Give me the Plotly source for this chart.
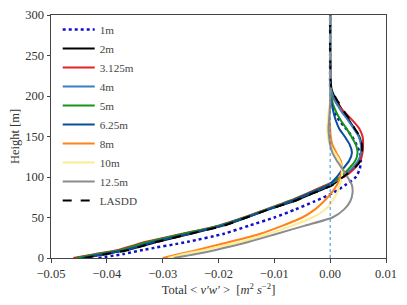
import plotly.graph_objects as go

heights = [0, 5, 10, 20, 30, 40, 50, 60, 70, 80, 90, 100, 110, 120, 130, 140,
           150, 160, 170, 180, 190, 200, 210, 250, 300]

flux_1m = [-0.0415, -0.037, -0.0335, -0.0255, -0.019, -0.0145, -0.0100, -0.0062, -0.0028, 0.0004,
           0.0027, 0.0046, 0.0053, 0.0055, 0.0053, 0.0047, 0.0039, 0.0028, 0.0016, 0.0008,
           0.0003, 0.0001, 0.0, 0.0, 0.0]
flux_2m = [-0.0442, -0.0402, -0.0362, -0.0310, -0.0250, -0.0192, -0.0150, -0.0110, -0.0066, -0.0031,
           0.0003, 0.0022, 0.0040, 0.0052, 0.0056, 0.0056, 0.0052, 0.0043, 0.0034, 0.0024,
           0.0015, 0.0007, 0.0002, 0.0, 0.0]
flux_3125m = [-0.0460, -0.0420, -0.0380, -0.0330, -0.0265, -0.0200, -0.0155, -0.0115, -0.0075, -0.0040,
              -0.0008, 0.0025, 0.0043, 0.0054, 0.0058, 0.0059, 0.0058, 0.0052, 0.0040, 0.0026,
              0.0012, 0.0004, 0.0001, 0.0, 0.0]
flux_4m = [-0.0450, -0.0410, -0.0370, -0.0318, -0.0256, -0.0196, -0.0152, -0.0112, -0.0070, -0.0035,
           -0.0002, 0.0020, 0.0038, 0.0050, 0.0055, 0.0055, 0.0051, 0.0042, 0.0032, 0.0021,
           0.0012, 0.0005, 0.0001, 0.0, 0.0]
flux_5m = [-0.0455, -0.0415, -0.0375, -0.0325, -0.0262, -0.0198, -0.0153, -0.0113, -0.0073, -0.0038,
           -0.0005, 0.0018, 0.0033, 0.0045, 0.0049, 0.0046, 0.0038, 0.0029, 0.0019, 0.0011,
           0.0005, 0.0002, 0.0, 0.0, 0.0]
flux_625m = [-0.0445, -0.0405, -0.0366, -0.0315, -0.0253, -0.0194, -0.0150, -0.0110, -0.0070, -0.0036,
             -0.0003, 0.0012, 0.0023, 0.0034, 0.0039, 0.0035, 0.0026, 0.0016, 0.0010, 0.0006,
             0.0003, 0.0001, 0.0, 0.0, 0.0]
flux_8m = [-0.0300, -0.0270, -0.0238, -0.0179, -0.0125, -0.0085, -0.0050, -0.0027, -0.0011, 0.0002,
           0.0012, 0.0018, 0.0021, 0.0019, 0.0011, 0.0004, 0.0001, 0.0, -0.0001, -0.0001,
           0.0, 0.0, 0.0, 0.0, 0.0]
flux_10m = [-0.0290, -0.0262, -0.0225, -0.0160, -0.0110, -0.0068, -0.0032, -0.0009, 0.0004, 0.0012,
            0.0017, 0.0021, 0.0021, 0.0017, 0.0008, -0.0001, -0.0004, -0.0005, -0.0004, -0.0003,
            -0.0001, 0.0, 0.0, 0.0, 0.0]
flux_125m = [-0.0280, -0.0240, -0.0205, -0.0145, -0.0095, -0.0045, 0.0004, 0.0025, 0.0036, 0.0040,
             0.0039, 0.0031, 0.0022, 0.0012, 0.0004, 0.0, -0.0002, -0.0003, -0.0002, -0.0001,
             0.0, 0.0, 0.0, 0.0, 0.0]
flux_lasdd = [-0.0440, -0.0400, -0.0360, -0.0310, -0.0250, -0.0190, -0.0150, -0.0110, -0.0065, -0.0030,
              0.0004, 0.0023, 0.0042, 0.0054, 0.0057, 0.0057, 0.0053, 0.0044, 0.0036, 0.0026,
              0.0017, 0.0008, 0.0002, 0.0, 0.0]

labels = ["1m", "2m", "3.125m", "4m", "5m", "6.25m", "8m", "10m", "12.5m", "LASDD"]
series = [flux_1m, flux_2m, flux_3125m, flux_4m, flux_5m, flux_625m, flux_8m, flux_10m, flux_125m, flux_lasdd]
colors = ["#1010c8", "#000000", "#e3222a", "#3a7fc1", "#17951a", "#0c4c98", "#ff8418",
          "#fcec94", "#8c8c8c", "#000000"]
dashes = ["dot", "solid", "solid", "solid", "solid", "solid", "solid", "solid", "solid", "dash"]
widths = [2.5, 2, 2, 2, 2, 2, 2, 2, 2, 2]

x_ticks = [-0.05, -0.04, -0.03, -0.02, -0.01, 0.0, 0.01]
y_ticks = [0, 50, 100, 150, 200, 250, 300]

SERIF = "Liberation Serif"

fig = go.Figure()
fig.add_vline(x=0, line=dict(color="#2b8fe6", width=1, dash="dot"))
for lab, vals, col, dsh, w in zip(labels, series, colors, dashes, widths):
    fig.add_trace(go.Scatter(x=vals, y=heights, mode="lines", name=lab,
                             line=dict(color=col, dash=dsh, width=w, shape="spline", smoothing=0.6)))

# page body has an 8px default margin; figure sized so the plot lands where the reference has it
fig.update_layout(
    width=399, height=297,
    margin=dict(l=43, r=21, t=7, b=47, autoexpand=False),
    paper_bgcolor="white", plot_bgcolor="white",
    font=dict(family=SERIF, size=12.5, color="#222"),
    showlegend=True,
    legend=dict(x=0.02, y=1.0, xanchor="left", yanchor="top",
                bgcolor="rgba(255,255,255,0)", borderwidth=0,
                font=dict(family=SERIF, size=11.2, color="#444"),
                itemwidth=32, tracegroupgap=0),
)
fig.update_xaxes(range=[-0.05, 0.01], tickvals=x_ticks, tickformat=".2f", automargin=False,
                 showgrid=False, zeroline=False, showline=True, linecolor="#444", linewidth=1,
                 mirror=True, ticks="outside", ticklen=3.5, tickcolor="#444",
                 tickfont=dict(family=SERIF, size=12.5, color="#333"),
                 title=dict(text="Total &lt; <i>v′w′</i> &gt;  [<i>m</i><sup>2</sup> <i>s</i><sup>−2</sup>]",
                            standoff=0, font=dict(family=SERIF, size=12.5, color="#333")))
fig.update_yaxes(range=[0, 300], tickvals=y_ticks, automargin=False,
                 showgrid=False, zeroline=False, showline=True, linecolor="#444", linewidth=1,
                 mirror=True, ticks="outside", ticklen=3.5, tickcolor="#444",
                 tickfont=dict(family=SERIF, size=12.5, color="#333"),
                 title=dict(text="Height [m]", standoff=9, font=dict(family=SERIF, size=12.5, color="#333")))

fig.write_html("out.html")
